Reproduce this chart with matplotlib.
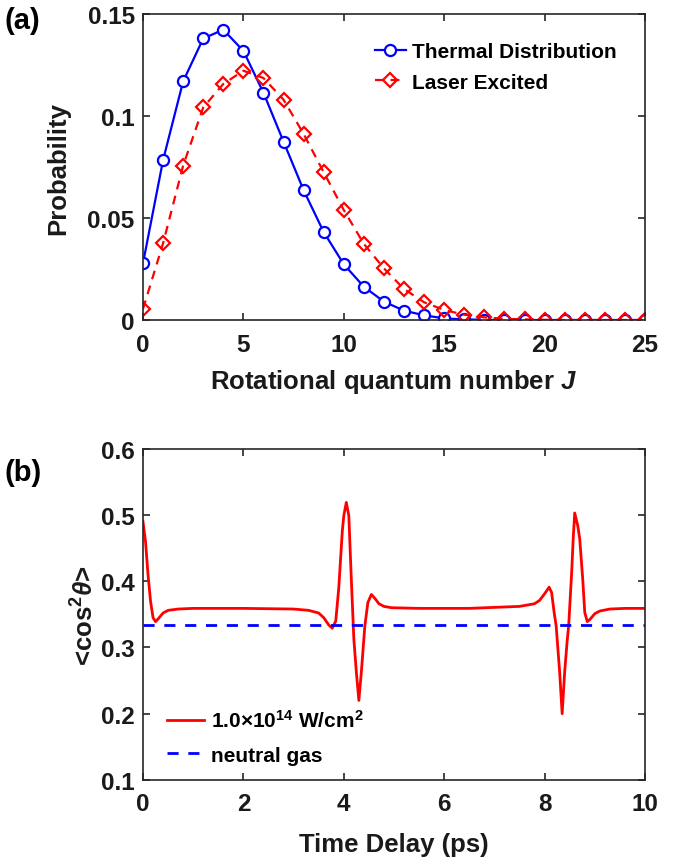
import numpy as np
import matplotlib
matplotlib.use("Agg")
import matplotlib.pyplot as plt

plt.rcParams['font.family'] = ['Liberation Sans', 'DejaVu Sans']
plt.rcParams['font.weight'] = 'bold'
plt.rcParams['mathtext.fontset'] = 'custom'
plt.rcParams['mathtext.rm'] = 'Liberation Sans:bold'
plt.rcParams['mathtext.it'] = 'Liberation Sans:italic:bold'
plt.rcParams['mathtext.bf'] = 'Liberation Sans:bold'

# (a) rotational state populations
J = np.arange(0, 26)
thermal = [0.0278, 0.0784, 0.117, 0.138, 0.1423, 0.1319, 0.1114, 0.0874, 0.0636,
           0.0431, 0.0273, 0.0163, 0.0090, 0.0046, 0.0023, 0.0008, 0.0003, 0.0001,
           0, 0, 0, 0, 0, 0, 0, 0]
laser = [0.0054, 0.0376, 0.0757, 0.1042, 0.1157, 0.1222, 0.1186, 0.1080, 0.0912,
         0.0724, 0.0539, 0.0373, 0.0253, 0.0152, 0.0087, 0.0049, 0.0026, 0.0013,
         0.0006, 0.0003, 0.0001, 0, 0, 0, 0, 0]

# (b) alignment vs time delay
t = [0, 0.05, 0.1, 0.15, 0.2, 0.25, 0.3, 0.4, 0.5, 0.7, 1.0, 2.0, 3.0, 3.3, 3.5,
     3.6, 3.7, 3.77, 3.84, 3.9, 3.97, 4.0, 4.05, 4.1, 4.15, 4.2, 4.25, 4.3, 4.35,
     4.42, 4.48, 4.55, 4.62, 4.7, 4.8, 4.95, 5.5, 6.5, 7.5, 7.8, 7.9, 8.0, 8.09,
     8.14, 8.19, 8.23, 8.3, 8.35, 8.4, 8.45, 8.48, 8.54, 8.57, 8.6, 8.66, 8.7,
     8.76, 8.8, 8.85, 8.9, 9.0, 9.1, 9.3, 9.6, 10.0]
cos2 = [0.490, 0.460, 0.410, 0.370, 0.345, 0.339, 0.343, 0.352, 0.356, 0.358,
        0.359, 0.359, 0.358, 0.356, 0.352, 0.345, 0.334, 0.329, 0.340, 0.390,
        0.475, 0.499, 0.519, 0.499, 0.403, 0.313, 0.263, 0.220, 0.263, 0.333,
        0.368, 0.380, 0.374, 0.366, 0.362, 0.360, 0.359, 0.359, 0.362, 0.366,
        0.371, 0.381, 0.391, 0.383, 0.353, 0.333, 0.263, 0.200, 0.263, 0.310,
        0.333, 0.414, 0.464, 0.503, 0.484, 0.464, 0.403, 0.353, 0.339, 0.342,
        0.351, 0.355, 0.358, 0.359, 0.359]
neutral = 1.0 / 3.0

spine_col = '#262626'
txt_col = '#1a1a1a'

def style_axes(ax):
    for s in ax.spines.values():
        s.set_color(spine_col)
        s.set_linewidth(1.2)
    ax.tick_params(direction='in', length=5, width=1.2, color=spine_col,
                   top=True, right=True, labelsize=17.5, labelcolor=txt_col)
    ax.tick_params(axis='x', pad=9)
    ax.tick_params(axis='y', pad=6)

fig = plt.figure(figsize=(6.79, 8.62), dpi=100)

ax1 = fig.add_axes([0.2106, 0.6276, 0.7393, 0.355])
ax1.plot(J, thermal, '-o', color='blue', lw=1.6, ms=8, mfc='white', mew=1.6,
         label='Thermal Distribution')
ax1.plot(J, laser, '--D', color='red', lw=1.6, ms=7, mfc='none', mew=1.6,
         dashes=(4, 3), label='Laser Excited')
ax1.set_xlim(0, 25)
ax1.set_ylim(0, 0.15)
ax1.set_xticks([0, 5, 10, 15, 20, 25])
ax1.set_yticks([0, 0.05, 0.1, 0.15])
ax1.set_yticklabels(['0', '0.05', '0.1', '0.15'])
ax1.set_xlabel(r'Rotational quantum number $J$', fontsize=18.5, fontweight='bold',
               color=txt_col, labelpad=8)
ax1.set_ylabel('Probability', fontsize=18.5, fontweight='bold', color=txt_col,
               labelpad=12)
style_axes(ax1)
ax1.legend(loc='upper right', frameon=False, fontsize=15, handlelength=1.5,
           handletextpad=0.3, borderaxespad=0.75, labelspacing=0.55,
           borderpad=0.6)
fig.text(0.006, 0.966, '(a)', fontsize=21, fontweight='bold')

ax2 = fig.add_axes([0.2106, 0.094, 0.7393, 0.3843])
ax2.plot(t, cos2, '-', color='red', lw=2.0,
         label=r'1.0$\times$10$^{14}$ W/cm$^{2}$')
ax2.plot([0, 10], [neutral, neutral], '--', color='blue', lw=2.0,
         dashes=(4, 3.5), label='neutral gas')
ax2.set_xlim(0, 10)
ax2.set_ylim(0.1, 0.6)
ax2.set_xticks([0, 2, 4, 6, 8, 10])
ax2.set_yticks([0.1, 0.2, 0.3, 0.4, 0.5, 0.6])
ax2.set_xlabel('Time Delay (ps)', fontsize=18.5, fontweight='bold', color=txt_col,
               labelpad=12)
ax2.set_ylabel(r'<cos$^{2}\theta$>', fontsize=18.5, fontweight='bold', color=txt_col,
               labelpad=2)
style_axes(ax2)
ax2.legend(loc='lower left', bbox_to_anchor=(0.01, -0.01), frameon=False,
           fontsize=15, handlelength=1.8, handletextpad=0.3, labelspacing=0.7)
fig.text(0.006, 0.442, '(b)', fontsize=21, fontweight='bold')

fig.savefig('out.png', dpi=100)
